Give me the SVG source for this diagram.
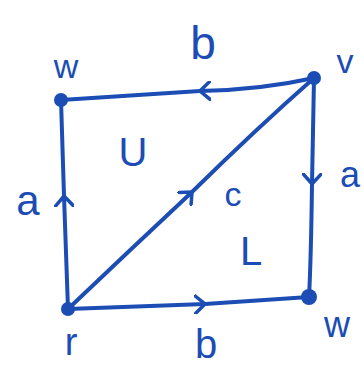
<svg xmlns="http://www.w3.org/2000/svg" width="364" height="369" viewBox="0 0 364 369">
<style>
.e{fill:none;stroke:#1c4db5;stroke-width:4;stroke-linecap:round;stroke-linejoin:round}
.n{fill:#1c4db5}
.t{fill:#1c4db5;font-family:"Liberation Sans",Arial,sans-serif}
</style>
<defs>
<marker id="ah" viewBox="0 0 12 20" refX="11" refY="10" markerWidth="12" markerHeight="20" markerUnits="userSpaceOnUse" orient="auto">
<path d="M1,1 L11,10 L1,19" fill="none" stroke="#1c4db5" stroke-width="3.5" stroke-linecap="round" stroke-linejoin="round"/>
</marker>
</defs>
<rect width="364" height="369" fill="#fff"/>
<g id="connectors">
<path class="e" d="M314,78 Q260,90 200,91 L61,100" marker-mid="url(#ah)"/>
<path class="e" d="M68,309 L64,196 L61,100" marker-mid="url(#ah)"/>
<path class="e" d="M314,78 L312,184 Q311,260 309,297" marker-mid="url(#ah)"/>
<path class="e" d="M68,309 L205,304 L309,297" marker-mid="url(#ah)"/>
<path class="e" d="M68,309 Q130,250 192,192 Q255,130 314,78" marker-mid="url(#ah)"/>
</g>
<g id="node-w-top"><circle class="n" cx="61" cy="100" r="7"/><text class="t" x="66" y="78" font-size="34" text-anchor="middle">w</text></g>
<g id="node-v"><circle class="n" cx="314" cy="78" r="7"/><text class="t" x="345" y="73" font-size="34" text-anchor="middle">v</text></g>
<g id="node-r"><circle class="n" cx="68" cy="309" r="7"/><text class="t" x="71" y="355" font-size="38" text-anchor="middle">r</text></g>
<g id="node-w-bottom"><circle class="n" cx="309" cy="297" r="8"/><text class="t" x="337" y="337" font-size="36" text-anchor="middle">w</text></g>
<g id="labels">
<text class="t" x="203" y="59" font-size="46" text-anchor="middle">b</text>
<text class="t" x="206" y="358" font-size="40" text-anchor="middle">b</text>
<text class="t" x="28" y="215" font-size="42" text-anchor="middle">a</text>
<text class="t" x="350" y="187" font-size="36" text-anchor="middle">a</text>
<text class="t" x="133" y="166" font-size="40" text-anchor="middle">U</text>
<text class="t" x="251" y="265" font-size="40" text-anchor="middle">L</text>
<text class="t" x="233" y="206" font-size="34" text-anchor="middle">c</text>
</g>
</svg>
